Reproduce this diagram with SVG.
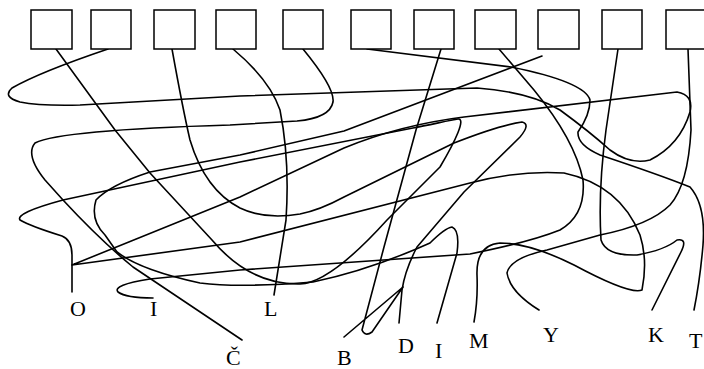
<svg xmlns="http://www.w3.org/2000/svg" width="704" height="369" viewBox="0 0 704 369">
<style>
.box{fill:#fff;stroke:#000;stroke-width:1.5}
.ln{fill:none;stroke:#000;stroke-width:1.6;stroke-linecap:round;stroke-linejoin:round}
.lb{font-family:"Liberation Serif","Times New Roman",serif;font-size:22px;fill:#000}
</style>
<rect width="704" height="369" fill="#fff"/>
<g id="connectors">
<path id="c1" class="ln" d="M56,49 L115,130 L150,173 L212,240 Q250,285 300,284 Q330,283 387,220 L440,167 C456,140 466,118 458,119 C450,120 430,125 413,128 L240,162 L63,200 Q15,213 20,220 Q30,226 62,236 Q72,240 72,255 L72,292"/>
<path id="c2" class="ln" d="M108,49 Q40,72 12,88 Q2,97 20,102 Q40,106 80,105 L240,96 L477,88 Q530,92 560,110 Q590,132 610,150 Q630,165 650,160 Q680,145 690,112 Q694,95 677,92 L464,117 Q400,125 344,148 L240,197 L72,265 L240,242 L470,183 Q520,170 564,173 Q620,185 640,235 Q648,260 642,290 Q630,295 574,265 Q530,243 500,243 Q476,245 477,275 Q478,300 474,322"/>
<path id="c3" class="ln" d="M172,49 Q183,110 190,140 Q205,190 240,208 Q265,220 300,214 Q320,210 344,197 L454,143 Q500,125 522,122 Q531,124 520,137 L464,192 L417,247 Q405,270 402,290 L399,323"/>
<path id="c4" class="ln" d="M233,49 Q270,80 280,110 Q290,160 286,220 L274,295"/>
<path id="c5" class="ln" d="M303,49 Q335,88 333,102 Q330,118 297,121 L230,125 Q60,130 35,143 Q25,155 45,180 L63,200 Q100,240 133,267 L242,340"/>
<path id="c6" class="ln" d="M367,49 L511,67 Q585,82 590,100 Q590,115 578,132 Q577,145 600,155 Q660,175 690,187 Q706,205 703,245 Q700,280 694,310"/>
<path id="c7" class="ln" d="M441,49 L416,130 L384,247 L362,330 Q365,337 372,332 L403,287 L344,337"/>
<path id="c8" class="ln" d="M499,49 L534,90 Q575,140 583,180 Q586,215 560,230 Q530,242 470,254 L240,270 L150,279 Q112,285 118,292 Q126,298 153,298"/>
<path id="c9" class="ln" d="M542,56 L344,131 L240,155 L150,172 Q110,185 96,200 Q90,220 105,235 L117,252 Q140,270 200,283 Q240,288 313,282 Q370,270 430,243 Q445,228 452,227 Q460,230 457,253 L437,323"/>
<path id="c10" class="ln" d="M618,49 L606,130 Q598,190 601,240 Q606,256 637,255 Q665,250 677,240 Q688,238 681,252 L652,310"/>
<path id="c11" class="ln" d="M688,49 L691,130 Q688,185 670,205 Q650,225 600,235 L547,250 Q510,258 507,273 Q510,292 539,310"/>
</g>
<g id="n1"><rect class="box" x="31" y="10" width="41" height="39"/></g>
<g id="n2"><rect class="box" x="91" y="10" width="40" height="39"/></g>
<g id="n3"><rect class="box" x="154" y="10" width="41" height="39"/></g>
<g id="n4"><rect class="box" x="216" y="10" width="40" height="39"/></g>
<g id="n5"><rect class="box" x="283" y="10" width="40" height="39"/></g>
<g id="n6"><rect class="box" x="351" y="10" width="40" height="39"/></g>
<g id="n7"><rect class="box" x="414" y="10" width="40" height="39"/></g>
<g id="n8"><rect class="box" x="475" y="10" width="41" height="39"/></g>
<g id="n9"><rect class="box" x="538" y="10" width="41" height="39"/></g>
<g id="n10"><rect class="box" x="602" y="10" width="40" height="39"/></g>
<g id="n11"><rect class="box" x="666" y="10" width="40" height="39"/></g>
<g id="labels">
<text class="lb" x="70" y="316">O</text>
<text class="lb" x="150" y="316">I</text>
<text class="lb" x="226" y="365">Č</text>
<text class="lb" x="264" y="316">L</text>
<text class="lb" x="337" y="365">B</text>
<text class="lb" x="398" y="353">D</text>
<text class="lb" x="435" y="358">I</text>
<text class="lb" x="469" y="348">M</text>
<text class="lb" x="543" y="342">Y</text>
<text class="lb" x="648" y="342">K</text>
<text class="lb" x="689" y="348">T</text>
</g>
</svg>
